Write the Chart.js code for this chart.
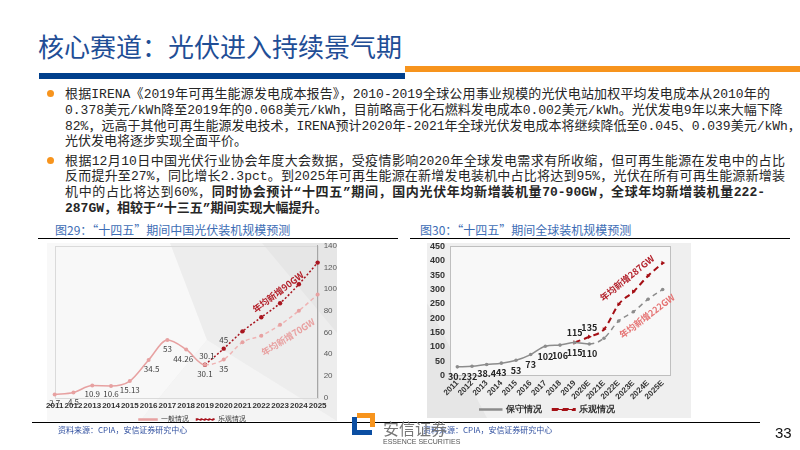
<!DOCTYPE html>
<html>
<head>
<meta charset="utf-8">
<script src="https://cdn.jsdelivr.net/npm/chart.js@4.4.1/dist/chart.umd.min.js"></script>
<style>
body{margin:0;width:800px;height:450px;position:relative;overflow:hidden;background:#fff;font-family:"Noto Sans CJK SC",sans-serif;}
.abs{position:absolute;}
.title{left:38px;top:31px;font-size:26px;line-height:30px;color:#1F4E96;white-space:nowrap;}
.line{position:absolute;left:65px;font-family:"Liberation Mono","Noto Sans CJK SC",monospace;font-size:13px;line-height:16px;color:#262626;white-space:nowrap;text-align:justify;text-align-last:justify;}
.line.last{text-align-last:left;}
.dot{position:absolute;width:7px;height:7px;border-radius:50%;background:#F7941D;}
.cap{position:absolute;top:223px;font-size:12px;line-height:14px;color:#3D6DB5;white-space:nowrap;}
.note{position:absolute;font-size:9px;font-weight:bold;white-space:nowrap;transform-origin:center;}
.src{position:absolute;top:425px;font-size:8px;line-height:10px;color:#2F4F9F;white-space:nowrap;}
</style>
</head>
<body>
<div class="abs title">核心赛道：光伏进入持续景气期</div>
<div class="abs" style="left:39px;top:73px;width:366px;height:6px;background:#003F8C"></div>
<div class="abs" style="left:405px;top:66px;width:395px;height:6px;background:#F7941D"></div>

<div class="dot" style="left:47px;top:90px"></div>
<div class="line" style="top:87px;width:705px">根据IRENA《2019年可再生能源发电成本报告》，2010-2019全球公用事业规模的光伏电站加权平均发电成本从2010年的</div>
<div class="line" style="top:103px;width:705px">0.378美元/kWh降至2019年的0.068美元/kWh，目前略高于化石燃料发电成本0.002美元/kWh。光伏发电9年以来大幅下降</div>
<div class="line" style="top:118.5px;width:717px">82%，远高于其他可再生能源发电技术，IRENA预计2020年-2021年全球光伏发电成本将继续降低至0.045、0.039美元/kWh，</div>
<div class="line last" style="top:134px">光伏发电将逐步实现全面平价。</div>

<div class="dot" style="left:47px;top:157px"></div>
<div class="line" style="top:153.5px;width:720px">根据12月10日中国光伏行业协会年度大会数据，受疫情影响2020年全球发电需求有所收缩，但可再生能源在发电中的占比</div>
<div class="line" style="top:169px;width:720px">反而提升至27%，同比增长2.3pct。到2025年可再生能源在新增发电装机中占比将达到95%，光伏在所有可再生能源新增装</div>
<div class="line" style="top:185px;width:700px">机中的占比将达到60%，<b>同时协会预计“十四五”期间，国内光伏年均新增装机量70-90GW，全球年均新增装机量222-</b></div>
<div class="line last" style="top:200.5px"><b>287GW，相较于“十三五”期间实现大幅提升。</b></div>

<div class="cap" style="left:55px">图29：“十四五”期间中国光伏装机规模预测</div>
<div class="cap" style="left:420px">图30：“十四五”期间全球装机规模预测</div>
<div class="abs" style="left:38px;top:238px;width:360px;height:1px;background:#000"></div>
<div class="abs" style="left:410px;top:238px;width:380px;height:1px;background:#000"></div>

<!-- chart backgrounds -->
<div class="abs" style="left:47px;top:243px;width:290px;height:178px;background:#EDEDED"></div>
<div class="abs" style="left:47px;top:243px;width:290px;height:178px;background:#F8F8F8;clip-path:polygon(0 0,123px 0,160px 97px,93px 178px,0 178px)"></div>
<div class="abs" style="left:47px;top:243px;width:290px;height:178px;background:#F4F4F4;clip-path:polygon(160px 97px,290px 178px,93px 178px)"></div>
<div class="abs" style="left:47px;top:243px;width:290px;height:178px;background:#E6E6E6;clip-path:polygon(215px 0,290px 0,290px 90px)"></div>

<div class="abs" style="left:427px;top:243px;width:264px;height:175px;background:#EFEFEF"></div>
<div class="abs" style="left:427px;top:243px;width:264px;height:175px;background:#E6E6E6;clip-path:polygon(0 60px,60px 175px,0 175px)"></div>

<canvas id="cnChart" class="abs" width="301" height="198" style="left:42px;top:235px"></canvas>
<canvas id="glChart" class="abs" width="266" height="188" style="left:425px;top:236px"></canvas>

<div class="note" style="left:278px;top:292px;color:#B3202A;transform:translate(-50%,-50%) rotate(-37deg)">年均新增90GW</div>
<div class="note" style="left:288px;top:337px;color:#E8A0A0;transform:translate(-50%,-50%) rotate(-32deg)">年均新增70GW</div>
<div class="note" style="left:627px;top:278px;color:#B3202A;transform:translate(-50%,-50%) rotate(-39deg)">年均新增287GW</div>
<div class="note" style="left:647px;top:316px;color:#E57373;transform:translate(-50%,-50%) rotate(-37deg)">年均新增222GW</div>

<!-- footer -->
<div class="abs" style="left:32px;top:422px;width:728px;height:1px;background:#000"></div>
<div class="src" style="left:58px">资料来源：CPIA，安信证券研究中心</div>
<div class="src" style="left:423px">资料来源：CPIA，安信证券研究中心</div>
<div class="abs" style="left:357px;top:413px;width:18px;height:5px;background:#F7941D"></div>
<div class="abs" style="left:370px;top:413px;width:5px;height:14px;background:#F7941D"></div>
<div class="abs" style="left:352px;top:417px;width:5px;height:18px;background:#0B4EA2"></div>
<div class="abs" style="left:352px;top:430px;width:20px;height:5px;background:#0B4EA2"></div>
<div class="abs" style="left:383px;top:419px;font-size:16px;line-height:18px;color:#777;white-space:nowrap">安信证券</div>
<div class="abs" style="left:383px;top:438px;font-family:'Liberation Sans Narrow','Liberation Sans';font-size:7px;line-height:8px;color:#555;white-space:nowrap">ESSENCE SECURITIES</div>
<div class="abs" style="left:775px;top:424px;font-family:'Liberation Sans Narrow','Liberation Sans';font-size:15px;line-height:18px;color:#111">33</div>

<script>
// 图29 中国光伏装机 (GW)
const cnYears = ['2011', '2012', '2013', '2014', '2015', '2016', '2017', '2018', '2019', '2020', '2021', '2022', '2023', '2024', '2025'];
const cnNormal = [2.7, 4.5, 10.9, 10.6, 15.13, 34.5, 53, 44.26, 30.1, 35, 51, 57, 67, 80, 95];
const cnOptimistic = [null, null, null, null, null, null, null, null, 30.1, 45, 61, 74, 87, 104.5, 124.5];
const cnTicks = [0, 20, 40, 60, 80, 100, 120, 140];

// 图30 全球装机 (GW)
const glYears = ['2011', '2012', '2013', '2014', '2015', '2016', '2017', '2018', '2019', '2020E', '2021E', '2022E', '2023E', '2024E', '2025E'];
const glConservative = [30.2, 32, 38.4, 43, 53, 73, 102, 106, 115, 110, 130, 190, 222, 266, 300];
const glOptimistic = [null, null, null, null, null, null, null, null, 115, 135, 161, 248, 292, 347, 392];
const glTicks = [0, 50, 100, 150, 200, 250, 300, 350, 400, 450];

// value labels next to points: [index, dx, dy]
const pointLabels = {
    id: 'pointLabels',
    afterDatasetsDraw(chart) {
        const ctx = chart.ctx;
        chart.data.datasets.forEach((ds, i) => {
            if (!ds.labelSpots) return;
            const meta = chart.getDatasetMeta(i);
            ctx.save();
            ctx.font = ds.labelFont;
            ctx.fillStyle = ds.labelColor;
            ctx.textAlign = 'center';
            ctx.textBaseline = 'middle';
            ds.labelSpots.forEach(([idx, dx, dy]) => {
                const pt = meta.data[idx];
                ctx.fillText(String(ds.data[idx]), pt.x + dx, pt.y + dy);
            });
            ctx.restore();
        });
    }
};

const plotFrame = {
    id: 'plotFrame',
    beforeDraw(chart, args, opts) {
        const { ctx, chartArea: a } = chart;
        ctx.save();
        if (opts.fill) {
            ctx.fillStyle = opts.fill;
            ctx.fillRect(a.left, a.top, a.width, a.height);
        }
        ctx.strokeStyle = opts.color;
        ctx.lineWidth = 1;
        ctx.strokeRect(Math.round(a.left) + 0.5, Math.round(a.top) + 0.5, Math.round(a.width), Math.round(a.height));
        ctx.restore();
    }
};

// legend items sit tight, so a wide space after the first one keeps them apart
function spacedLabels(chart) {
    const items = Chart.defaults.plugins.legend.labels.generateLabels(chart);
    items.forEach((it, i) => { if (i < items.length - 1) it.text += '\u3000'; });
    return items;
}

new Chart(document.getElementById('cnChart'), {
    type: 'line',
    data: {
        labels: cnYears,
        datasets: [{
            label: '一般情况',
            data: cnNormal,
            borderColor: '#E7A1A1',
            backgroundColor: '#E7A1A1',
            borderWidth: 1.5,
            pointRadius: 2,
            pointBackgroundColor: '#E7A1A1',
            pointBorderWidth: 0,
            tension: 0.4,
            cubicInterpolationMode: 'monotone',
            segment: {
                borderDash: c => c.p0DataIndex >= 8 ? [4, 3] : undefined,
                borderColor: c => c.p0DataIndex >= 8 ? '#EFB3B3' : undefined
            },
            labelFont: '8px "Noto Sans CJK SC"',
            labelColor: '#404040',
            labelSpots: [[0, 0, 8], [1, 0, 9], [2, 0, 8], [3, 0, 8], [4, 0, 9], [5, 3, 9], [6, 0, 9], [7, -3, 9], [8, 0, 9], [9, 0, 9]]
        }, {
            label: '乐观情况',
            data: cnOptimistic,
            borderColor: '#A8151F',
            backgroundColor: '#A8151F',
            borderWidth: 1.5,
            borderDash: [2, 2],
            pointRadius: 2.2,
            pointBackgroundColor: '#A8151F',
            pointBorderWidth: 0,
            tension: 0.4,
            cubicInterpolationMode: 'monotone',
            labelFont: '8px "Noto Sans CJK SC"',
            labelColor: '#404040',
            labelSpots: [[8, 2, -9], [9, 0, -9]]
        }]
    },
    options: {
        responsive: false,
        animation: false,
        layout: { padding: { left: 0, top: 4, right: 0, bottom: 0 } },
        plugins: {
            legend: {
                position: 'bottom',
                labels: { boxWidth: 18, boxHeight: 1, padding: 1, font: { size: 7 }, color: '#333', generateLabels: spacedLabels }
            },
            tooltip: { enabled: false },
            plotFrame: { color: '#DADADA' }
        },
        scales: {
            x: {
                offset: false,
                grid: { display: false, drawTicks: false },
                border: { display: false },
                ticks: { font: { size: 8, weight: 'bold' }, color: '#333', maxRotation: 0, autoSkip: false, padding: 4 }
            },
            y: {
                position: 'right',
                min: cnTicks[0],
                max: cnTicks[cnTicks.length - 1],
                grid: { display: false, drawTicks: false },
                border: { display: true, color: '#A6A6A6' },
                ticks: { stepSize: cnTicks[1] - cnTicks[0], autoSkip: false, font: { size: 8 }, color: '#595959', padding: 6 }
            }
        }
    },
    plugins: [pointLabels, plotFrame]
});

new Chart(document.getElementById('glChart'), {
    type: 'line',
    data: {
        labels: glYears,
        datasets: [{
            label: '保守情况',
            data: glConservative,
            borderColor: '#8C8C8C',
            backgroundColor: '#8C8C8C',
            borderWidth: 1.5,
            pointRadius: 1.8,
            pointBackgroundColor: '#8C8C8C',
            pointBorderWidth: 0,
            tension: 0.3,
            cubicInterpolationMode: 'monotone',
            segment: {
                borderDash: c => c.p0DataIndex >= 9 ? [5, 4] : undefined
            },
            labelFont: 'bold 9px "Noto Sans CJK SC"',
            labelColor: '#262626',
            labelSpots: [[0, 0, 10], [1, 0, 10], [2, 0, 9], [3, 0, 9], [4, 0, 10], [5, 0, 10], [6, 0, 10], [7, 0, 10], [8, 0, 10], [9, 0, 10]]
        }, {
            label: '乐观情况',
            data: glOptimistic,
            borderColor: '#A50F15',
            backgroundColor: '#A50F15',
            borderWidth: 2,
            borderDash: [6, 4],
            pointStyle: 'triangle',
            rotation: 90,
            pointRadius: 2.5,
            pointBackgroundColor: '#A50F15',
            pointBorderWidth: 0,
            tension: 0.3,
            cubicInterpolationMode: 'monotone',
            labelFont: 'bold 9px "Noto Sans CJK SC"',
            labelColor: '#262626',
            labelSpots: [[8, 0, -10], [9, 0, -9]]
        }]
    },
    options: {
        responsive: false,
        animation: false,
        layout: { padding: { left: 0, top: 4, right: 21, bottom: 0 } },
        plugins: {
            legend: {
                position: 'bottom',
                labels: { boxWidth: 22, boxHeight: 1, padding: 1.5, font: { size: 9, weight: 'bold' }, color: '#333', generateLabels: spacedLabels }
            },
            tooltip: { enabled: false },
            plotFrame: { color: '#BFBFBF', fill: '#F8F8F8' }
        },
        scales: {
            x: {
                offset: true,
                grid: { display: false, drawTicks: false },
                border: { display: false },
                ticks: { font: { size: 8, weight: 'bold' }, color: '#333', minRotation: 45, maxRotation: 45, autoSkip: false, padding: 3 },
                afterFit(scale) { scale.height = 28; }
            },
            y: {
                min: glTicks[0],
                max: glTicks[glTicks.length - 1],
                grid: { display: false, drawTicks: false },
                border: { display: false },
                ticks: { stepSize: glTicks[1] - glTicks[0], autoSkip: false, font: { size: 9, weight: 'bold' }, color: '#333', padding: 5 }
            }
        }
    },
    plugins: [pointLabels, plotFrame]
});
</script>
</body>
</html>
